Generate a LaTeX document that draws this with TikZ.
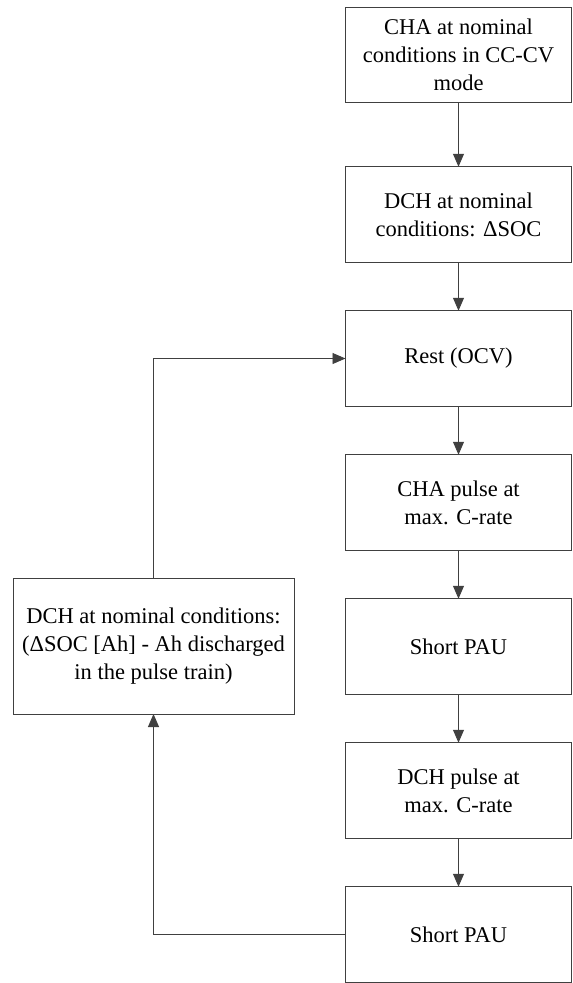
\documentclass[tikz,border=0pt]{standalone}
\usepackage{fontspec}
\setmainfont{Liberation Serif}
\usetikzlibrary{arrows.meta,positioning}
\tikzset{
  stepbox/.style={draw=black!75, line width=0.9pt, minimum width=226pt,
    minimum height=95.5pt, inner sep=0pt, outer sep=0pt, align=center,
    font=\fontsize{22.5}{28}\selectfont},
  loopbox/.style={stepbox, minimum width=281pt, minimum height=136pt},
  flow/.style={draw=black!75, line width=0.9pt,
    -{Triangle[length=13pt,width=11pt]}}
}
\begin{document}
\begin{tikzpicture}[x=1pt,y=-1pt]
  \useasboundingbox (0,0) rectangle (573,983);
  \node[stepbox] (chanom) at (458.5,55) {CHA at nominal\\conditions in CC-CV\\mode};
  \node[stepbox, below=64pt of chanom] (dchsoc) {DCH at nominal\\conditions: ΔSOC};
  \node[stepbox, below=48.5pt of dchsoc] (rest) {Rest (OCV)};
  \node[stepbox, below=48.5pt of rest] (chapulse) {CHA pulse at\\max. C-rate};
  \node[stepbox, below=48.5pt of chapulse] (pauone) {Short PAU};
  \node[stepbox, below=48.5pt of pauone] (dchpulse) {DCH pulse at\\max. C-rate};
  \node[stepbox, below=48.5pt of dchpulse] (pautwo) {Short PAU};
  \node[loopbox] (dchtrain) at (153.5,646) {DCH at nominal conditions:\\(ΔSOC [Ah] - Ah discharged\\in the pulse train)};
  \draw[flow] (chanom) -- (dchsoc);
  \draw[flow] (dchsoc) -- (rest);
  \draw[flow] (rest) -- (chapulse);
  \draw[flow] (chapulse) -- (pauone);
  \draw[flow] (pauone) -- (dchpulse);
  \draw[flow] (dchpulse) -- (pautwo);
  \draw[flow] (pautwo.west) -| (dchtrain.south);
  \draw[flow] (dchtrain.north) |- (rest.west);
\end{tikzpicture}
\end{document}
